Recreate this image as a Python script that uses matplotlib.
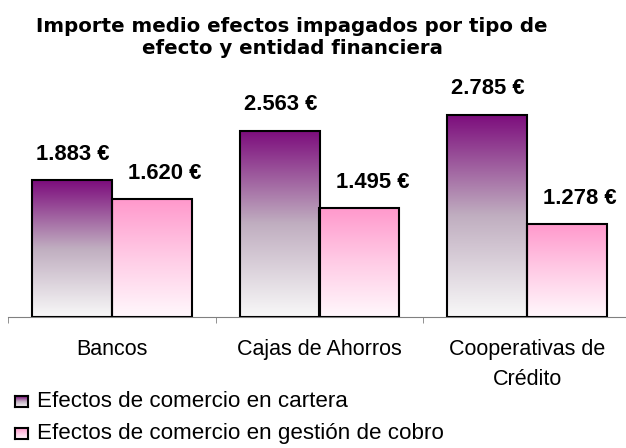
import matplotlib.pyplot as plt
import numpy as np
from matplotlib.colors import LinearSegmentedColormap

plt.rcParams['font.family'] = ['Liberation Sans', 'DejaVu Sans']

# data
entidades = ["Bancos", "Cajas de Ahorros", "Cooperativas de\nCrédito"]
cartera = [1883, 2563, 2785]
gestion = [1620, 1495, 1278]
series = ["Efectos de comercio en cartera", "Efectos de comercio en gestión de cobro"]
titulo = "Importe medio efectos impagados por tipo de\nefecto y entidad financiera"


def euro(v):
    return f"{v:,}".replace(",", ".") + " €"


# gradients, bottom -> top
cmap_p = LinearSegmentedColormap.from_list("p", ["#f8f8f8", "#c0aec0", "#7c0c7c"])
cmap_r = LinearSegmentedColormap.from_list("r", ["#fff8fc", "#ffcce6", "#ff99cc"])
grad = np.linspace(0, 1, 256).reshape(-1, 1)

fig = plt.figure(figsize=(6.26, 4.48), dpi=100)
ax = fig.add_axes([8 / 626, 131 / 448, 623 / 626, 218 / 448])

x = np.arange(len(entidades))
w = 0.385
b1 = ax.bar(x - w / 2, cartera, w, facecolor='none', edgecolor='black', lw=1.5, zorder=3)
b2 = ax.bar(x + w / 2, gestion, w, facecolor='none', edgecolor='black', lw=1.5, zorder=3)

for bars, cmap, vals, dx in [(b1, cmap_p, cartera, 1), (b2, cmap_r, gestion, 13)]:
    for b, v in zip(bars, vals):
        x0, bw, bh = b.get_x(), b.get_width(), b.get_height()
        ax.imshow(grad, cmap=cmap, extent=[x0, x0 + bw, 0, bh], origin='lower',
                  aspect='auto', zorder=2)
        ax.annotate(euro(v), (x0 + bw / 2, bh), xytext=(dx, 26), textcoords='offset pixels',
                    ha='center', va='center', fontweight='bold', fontsize=15.8,
                    annotation_clip=False)

ax.set_xlim(-0.5, 2.5)
ax.set_ylim(0, 3000)
for s in ['top', 'right', 'left']:
    ax.spines[s].set_visible(False)
ax.spines['bottom'].set_color('#808080')
ax.set_yticks([])
ax.set_xticks(x, entidades)
ax.set_xticks([-0.5, 0.5, 1.5, 2.5], minor=True)
ax.tick_params(axis='x', which='major', length=0, pad=15.5, labelsize=15.5)
ax.tick_params(axis='x', which='minor', length=4, color='#808080')
for t in ax.get_xticklabels():
    t.set_linespacing(1.6)

fig.text(292 / 626, 1 - 37 / 448, titulo, ha='center', va='center', family='DejaVu Sans',
         fontweight='bold', fontsize=14.2, linespacing=1.2)

# legend
for i, (name, cmap) in enumerate(zip(series, [cmap_p, cmap_r])):
    yc = 401 + 32 * i
    lax = fig.add_axes([15 / 626, 1 - (yc + 6) / 448, 13 / 626, 11 / 448])
    lax.imshow(grad, cmap=cmap, origin='lower', aspect='auto')
    lax.set_xticks([])
    lax.set_yticks([])
    for s in lax.spines.values():
        s.set_linewidth(1.5)
    fig.text(37 / 626, 1 - yc / 448, name, ha='left', va='center', fontsize=16.1)

plt.savefig("out.png", dpi=100)
